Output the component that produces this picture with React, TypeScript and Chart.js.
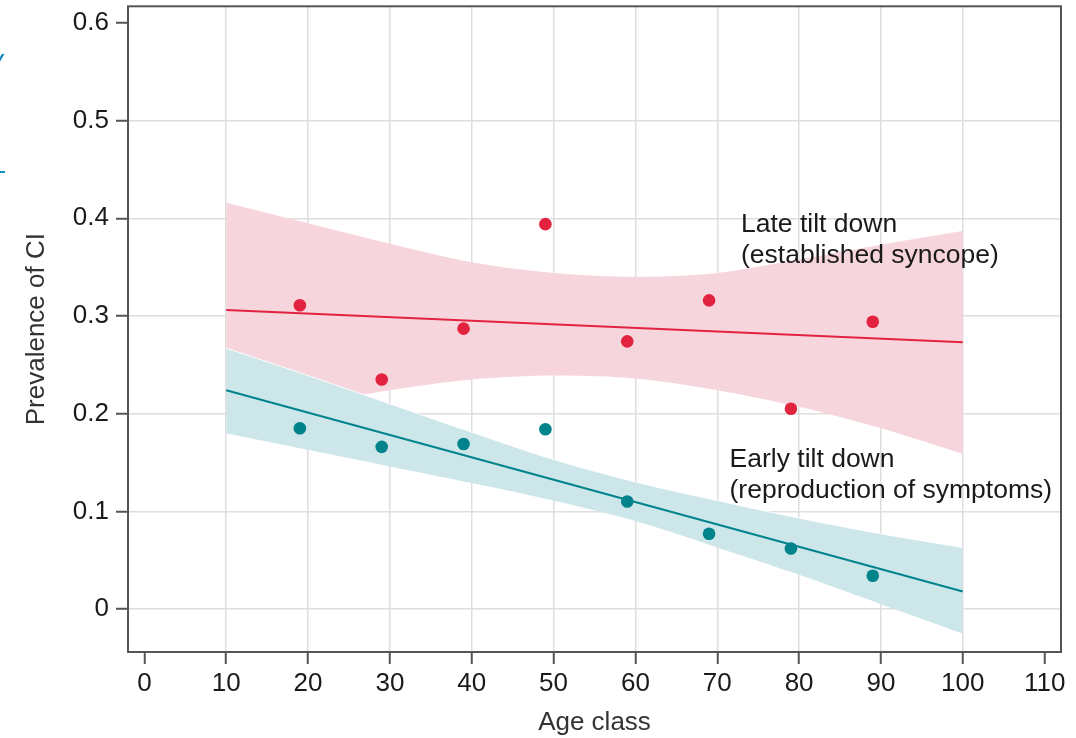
import React, { useEffect, useRef } from "react";
import { Chart, registerables } from "chart.js";

Chart.register(...registerables);

// ---- data ----
const ageClasses = [19, 29, 39, 49, 59, 69, 79, 89];
const lateValues = [0.311, 0.235, 0.287, 0.394, 0.274, 0.316, 0.205, 0.294];
const earlyValues = [0.185, 0.166, 0.169, 0.184, 0.11, 0.077, 0.062, 0.034];

const fitAges = [10, 100];
const lateFit = [0.306, 0.273];
const earlyFit = [0.224, 0.018];

const bandAges = [10, 20, 30, 40, 50, 60, 70, 80, 90, 100];
const lateUpper = [0.416, 0.395, 0.374, 0.355, 0.344, 0.34, 0.344, 0.358, 0.373, 0.387];
const lateLower = [0.196, 0.209, 0.224, 0.235, 0.239, 0.236, 0.224, 0.207, 0.185, 0.159];
const earlyUpper = [0.267, 0.239, 0.21, 0.181, 0.153, 0.13, 0.111, 0.093, 0.077, 0.063];
const earlyLower = [0.18, 0.163, 0.146, 0.129, 0.111, 0.09, 0.063, 0.035, 0.005, -0.025];

const xTicks = [0, 10, 20, 30, 40, 50, 60, 70, 80, 90, 100, 110];
const yTicks = [0, 0.1, 0.2, 0.3, 0.4, 0.5, 0.6];

const lateNote = ["Late tilt down", "(established syncope)"];
const lateNoteAt = { x: 72.9, y: 0.386 };
const earlyNote = ["Early tilt down", "(reproduction of symptoms)"];
const earlyNoteAt = { x: 71.5, y: 0.145 };

const xTitle = "Age class";
const yTitle = "Prevalence of CI";

// ---- styles ----
const FONT = "'Liberation Sans', Arial, Helvetica, sans-serif";
const RED = "#e2233f";
const RED_BAND = "#f7d5dc";
const TEAL = "#00838b";
const TEAL_BAND = "#cde6ea";
const GRID = "#dedede";
const AXIS = "#555555";
const TEXT = "#1a1a1a";

const pts = (xs: number[], ys: number[]) => xs.map((x, i) => ({ x, y: ys[i] }));

const framePlugin = {
  id: "frame",
  afterDraw(chart: any) {
    const { ctx, chartArea: a } = chart;
    ctx.save();
    ctx.strokeStyle = AXIS;
    ctx.lineWidth = 2;
    ctx.strokeRect(a.left, a.top, a.right - a.left, a.bottom - a.top);
    ctx.restore();
  },
};

const notesPlugin = {
  id: "notes",
  afterDatasetsDraw(chart: any) {
    const { ctx, scales } = chart;
    ctx.save();
    ctx.font = `26.5px ${FONT}`;
    ctx.fillStyle = TEXT;
    ctx.textBaseline = "alphabetic";
    ctx.textAlign = "left";
    const draw = (lines: string[], at: { x: number; y: number }) => {
      const px = scales.x.getPixelForValue(at.x);
      const py = scales.y.getPixelForValue(at.y);
      lines.forEach((t, i) => ctx.fillText(t, px, py + i * 31));
    };
    draw(lateNote, lateNoteAt);
    draw(earlyNote, earlyNoteAt);
    ctx.restore();
  },
};

export default function App() {
  const ref = useRef<HTMLCanvasElement | null>(null);

  useEffect(() => {
    if (!ref.current) return;
    const chart = new Chart(ref.current, {
      type: "line",
      data: {
        datasets: [
          {
            label: "late points",
            data: pts(ageClasses, lateValues),
            showLine: false,
            pointRadius: 6.3,
            pointBackgroundColor: RED,
            pointBorderWidth: 0,
            order: 0,
          },
          {
            label: "early points",
            data: pts(ageClasses, earlyValues),
            showLine: false,
            pointRadius: 6.3,
            pointBackgroundColor: TEAL,
            pointBorderWidth: 0,
            order: 0,
          },
          {
            label: "late fit",
            data: pts(fitAges, lateFit),
            borderColor: RED,
            borderWidth: 2,
            pointRadius: 0,
            fill: false,
            order: 1,
          },
          {
            label: "early fit",
            data: pts(fitAges, earlyFit),
            borderColor: TEAL,
            borderWidth: 2,
            pointRadius: 0,
            fill: false,
            order: 1,
          },
          {
            label: "early upper",
            data: pts(bandAges, earlyUpper),
            borderColor: "rgba(255,255,255,0.9)",
            borderWidth: 1,
            backgroundColor: TEAL_BAND,
            pointRadius: 0,
            tension: 0.3,
            fill: "+1",
            order: 2,
          },
          {
            label: "early lower",
            data: pts(bandAges, earlyLower),
            borderWidth: 0,
            borderColor: "rgba(0,0,0,0)",
            pointRadius: 0,
            tension: 0.3,
            fill: false,
            order: 2,
          },
          {
            label: "late upper",
            data: pts(bandAges, lateUpper),
            borderWidth: 0,
            borderColor: "rgba(0,0,0,0)",
            backgroundColor: RED_BAND,
            pointRadius: 0,
            tension: 0.3,
            fill: "+1",
            order: 3,
          },
          {
            label: "late lower",
            data: pts(bandAges, lateLower),
            borderWidth: 0,
            borderColor: "rgba(0,0,0,0)",
            pointRadius: 0,
            tension: 0.3,
            fill: false,
            order: 3,
          },
        ],
      },
      options: {
        animation: false,
        responsive: false,
        devicePixelRatio: 1,
        layout: { padding: { top: 5, right: 15, left: 0, bottom: 0 } },
        plugins: {
          legend: { display: false },
          tooltip: { enabled: false },
        },
        scales: {
          x: {
            type: "linear",
            min: -2,
            max: 112,
            afterBuildTicks: (s: any) => {
              s.ticks = xTicks.map((v) => ({ value: v }));
            },
            afterFit: (s: any) => {
              s.height = 86;
              s.paddingLeft = 0;
              s.paddingRight = 0;
            },
            border: { display: false },
            grid: {
              color: (c: any) =>
                c.tick && c.tick.value >= 10 && c.tick.value <= 100 ? GRID : "rgba(0,0,0,0)",
              lineWidth: 1.5,
              tickColor: AXIS,
              tickWidth: 2,
              tickLength: 12,
            },
            ticks: {
              color: TEXT,
              font: { family: FONT, size: 26 },
              padding: 4,
              maxRotation: 0,
              callback: (v: any) => String(v),
            },
            title: {
              display: true,
              text: xTitle,
              color: "#333",
              font: { family: FONT, size: 26 },
              padding: { top: 0, bottom: 0 },
            },
          },
          y: {
            type: "linear",
            min: -0.044,
            max: 0.617,
            afterBuildTicks: (s: any) => {
              s.ticks = yTicks.map((v) => ({ value: v }));
            },
            afterFit: (s: any) => {
              s.width = 128;
              s.paddingTop = 0;
              s.paddingBottom = 0;
            },
            border: { display: false },
            grid: {
              color: (c: any) =>
                c.tick && c.tick.value <= 0.55 ? GRID : "rgba(0,0,0,0)",
              lineWidth: 1.5,
              tickColor: AXIS,
              tickWidth: 2,
              tickLength: 12,
            },
            ticks: {
              color: TEXT,
              font: { family: FONT, size: 26 },
              padding: 7,
              callback: (v: any) => (v === 0 ? "0" : Number(v).toFixed(1)),
            },
            title: {
              display: true,
              text: yTitle,
              color: "#333",
              font: { family: FONT, size: 26 },
              padding: { top: 21, bottom: 0 },
            },
          },
        },
      },
      plugins: [framePlugin, notesPlugin],
    } as any);
    return () => chart.destroy();
  }, []);

  return (
    <div style={{ position: "fixed", left: 0, top: 0, width: 1076, height: 738, background: "#fff", overflow: "hidden" }}>
      <canvas ref={ref} width={1076} height={738} style={{ width: 1076, height: 738, display: "block" }} />
      <span
        style={{
          position: "absolute",
          left: -11,
          top: 44,
          fontFamily: FONT,
          fontSize: 28,
          fontStyle: "italic",
          color: "#1a8bc1",
        }}
      >
        y
      </span>
      <div style={{ position: "absolute", left: 0, top: 171, width: 5, height: 2, background: "#1a8bc1" }} />
    </div>
  );
}
